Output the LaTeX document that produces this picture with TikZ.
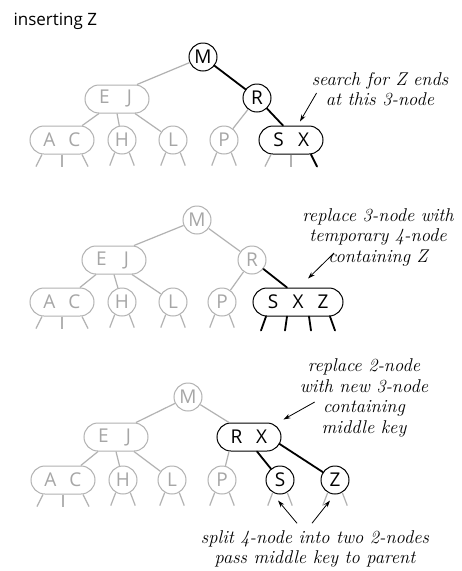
\documentclass[tikz,border=0pt]{standalone}
\usepackage{fontspec}
\setsansfont{Open Sans}
\usepackage{tikz}
\usetikzlibrary{arrows.meta}
\newcommand{\kb}[1]{\makebox[25pt]{#1}}

\begin{document}
\begin{tikzpicture}[
    x=1pt, y=-1pt,
    key/.style={circle, draw, line width=1pt, minimum size=28pt, inner sep=0pt, fill=white, font=\sffamily\fontsize{19}{19}\selectfont},
    pairkey/.style={key, rectangle, rounded corners=14pt, minimum width=64pt, minimum height=28pt},
    triokey/.style={pairkey, minimum width=90pt},
    faded/.style={draw=gray!60, text=gray!70},
    link/.style={line width=1.8pt, line cap=round},
    fadelink/.style={line width=1.2pt, gray!60},
    note/.style={align=center, inner sep=0pt, font=\itshape\fontsize{18.5}{20.5}\selectfont},
    pointer/.style={-{Stealth[length=7pt,width=4.5pt]}, line width=0.8pt}
]
\fill[white] (0,0) rectangle (462,571);
\useasboundingbox (0,0) rectangle (462,571);

\node[anchor=base west, font=\sffamily\fontsize{17}{17}\selectfont] (title) at (10,25) {inserting Z};

\node[key] (m1) at (203,57) {M};
\node[pairkey, faded] (ej1) at (117,99) {\kb{E}\kb{J}};
\node[key] (r1) at (257,98) {R};
\node[pairkey, faded] (ac1) at (62,140) {\kb{A}\kb{C}};
\node[key, faded] (h1) at (122,140) {H};
\node[key, faded] (l1) at (173,140) {L};
\node[key, faded] (p1) at (224,140) {P};
\node[pairkey] (sx1) at (291,140) {\kb{S}\kb{X}};

\draw[fadelink] (m1) -- ([xshift=20pt]ej1.north);
\draw[link] (m1) -- (r1);
\draw[fadelink] ([xshift=-18pt]ej1.south) -- (ac1);
\draw[fadelink] (ej1.south) -- (h1);
\draw[fadelink] ([xshift=18pt]ej1.south) -- (l1);
\draw[fadelink] (r1) -- (p1);
\draw[link] (r1) -- ([xshift=-8pt]sx1.north);

\foreach \n in {h1,l1,p1} {
    \draw[fadelink] (\n.-120) -- ++(-5,13);
    \draw[fadelink] (\n.-60) -- ++(5,13);
}
\draw[fadelink] ([xshift=-20pt]ac1.south) -- ++(-6,12);
\draw[fadelink] (ac1.south) -- ++(0,12);
\draw[fadelink] ([xshift=20pt]ac1.south) -- ++(6,12);
\draw[fadelink] ([xshift=-20pt]sx1.south) -- ++(-6,12);
\draw[fadelink] (sx1.south) -- ++(0,12);
\draw[link] ([xshift=20pt]sx1.south) -- ++(6,12);

\node[note] (note1) at (380,89) {search for Z ends\\at this 3-node};
\draw[pointer] ([xshift=5pt,yshift=-4pt]note1.west) -- ([xshift=9pt,yshift=4pt]sx1.north);

\node[key, faded] (m2) at (197,220) {M};
\node[pairkey, faded] (ej2) at (114,260) {\kb{E}\kb{J}};
\node[key, faded] (r2) at (252,260) {R};
\node[pairkey, faded] (ac2) at (62,302) {\kb{A}\kb{C}};
\node[key, faded] (h2) at (122,302) {H};
\node[key, faded] (l2) at (173,302) {L};
\node[key, faded] (p2) at (222,302) {P};
\node[triokey] (sxz2) at (298,302) {\kb{S}\kb{X}\kb{Z}};

\draw[fadelink] (m2) -- ([xshift=20pt]ej2.north);
\draw[fadelink] (m2) -- (r2);
\draw[fadelink] ([xshift=-18pt]ej2.south) -- (ac2);
\draw[fadelink] (ej2.south) -- (h2);
\draw[fadelink] ([xshift=18pt]ej2.south) -- (l2);
\draw[fadelink] (r2) -- (p2);
\draw[link] (r2) -- ([xshift=-11pt]sxz2.north);

\foreach \n in {h2,l2,p2} {
    \draw[fadelink] (\n.-120) -- ++(-5,13);
    \draw[fadelink] (\n.-60) -- ++(5,13);
}
\draw[fadelink] ([xshift=-20pt]ac2.south) -- ++(-6,12);
\draw[fadelink] (ac2.south) -- ++(0,12);
\draw[fadelink] ([xshift=20pt]ac2.south) -- ++(6,12);
\draw[link] ([xshift=-32pt]sxz2.south) -- ++(-5,14);
\draw[link] ([xshift=-11pt]sxz2.south) -- ++(-2,14);
\draw[link] ([xshift=11pt]sxz2.south) -- ++(2,14);
\draw[link] ([xshift=32pt]sxz2.south) -- ++(5,14);

\node[note] (note2) at (378,237) {replace 3-node with\\temporary 4-node\\containing Z};
\draw[pointer] ([xshift=32pt,yshift=-16pt]note2.west) -- ([xshift=10pt,yshift=9pt]sxz2.north);

\node[key, faded] (m3) at (188,397) {M};
\node[pairkey, faded] (ej3) at (116,437) {\kb{E}\kb{J}};
\node[pairkey] (rx3) at (249,437) {\kb{R}\kb{X}};
\node[pairkey, faded] (ac3) at (63,480) {\kb{A}\kb{C}};
\node[key, faded] (h3) at (123,480) {H};
\node[key, faded] (l3) at (172,480) {L};
\node[key, faded] (p3) at (222,480) {P};
\node[key] (s3) at (280,480) {S};
\node[key] (z3) at (335,480) {Z};

\draw[fadelink] (m3) -- ([xshift=20pt]ej3.north);
\draw[fadelink] (m3) -- ([xshift=-20pt]rx3.north);
\draw[fadelink] ([xshift=-18pt]ej3.south) -- (ac3);
\draw[fadelink] (ej3.south) -- (h3);
\draw[fadelink] ([xshift=18pt]ej3.south) -- (l3);
\draw[fadelink] ([xshift=-20pt]rx3.south) -- (p3);
\draw[link] ([xshift=8pt]rx3.south) -- (s3);
\draw[link] ([xshift=-2pt]rx3.-12) -- (z3);

\foreach \n in {h3,l3,p3,s3,z3} {
    \draw[fadelink] (\n.-120) -- ++(-5,13);
    \draw[fadelink] (\n.-60) -- ++(5,13);
}
\draw[fadelink] ([xshift=-20pt]ac3.south) -- ++(-6,12);
\draw[fadelink] (ac3.south) -- ++(0,12);
\draw[fadelink] ([xshift=20pt]ac3.south) -- ++(6,12);

\node[note] (note3) at (364,398) {replace 2-node\\with new 3-node\\containing\\middle key};
\draw[pointer] ([xshift=15pt,yshift=-4pt]note3.west) -- ([xshift=2pt,yshift=3pt]rx3.north east);

\node[note] (note4) at (315,549) {split 4-node into two 2-nodes\\pass middle key to parent};
\draw[pointer] ([xshift=-18pt,yshift=7pt]note4.north) -- ([xshift=-2pt,yshift=-6pt]s3.south);
\draw[pointer] ([xshift=-3pt,yshift=7pt]note4.north) -- ([xshift=-5pt,yshift=-6pt]z3.south);

\end{tikzpicture}
\end{document}
